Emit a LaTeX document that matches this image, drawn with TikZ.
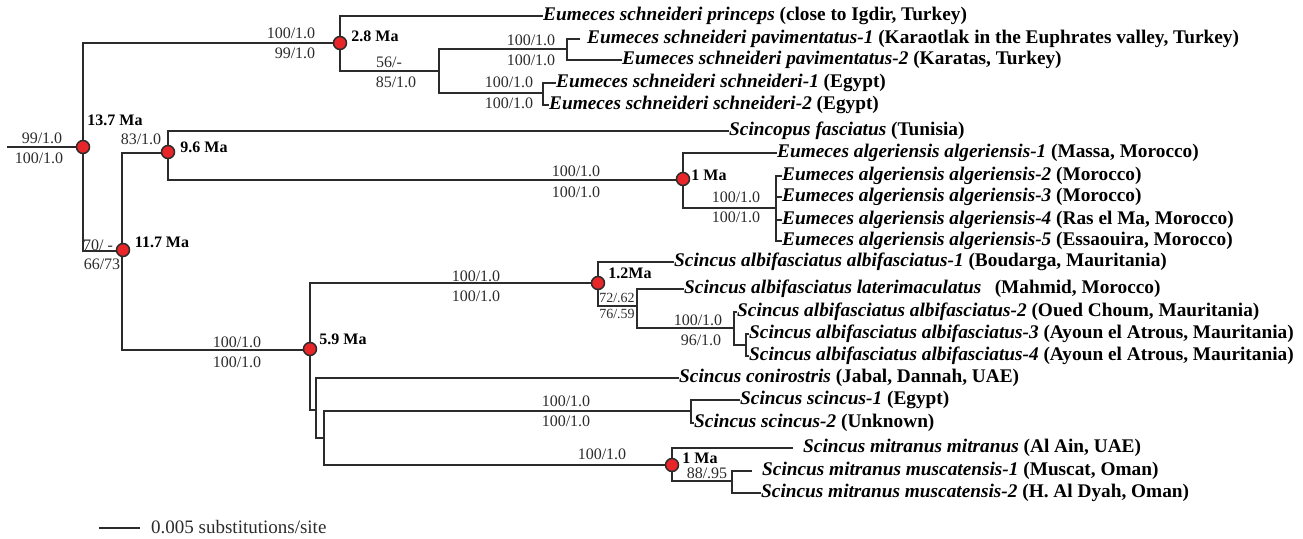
\documentclass[tikz,border=0pt]{standalone}
\usepackage{fontspec}
\setmainfont{Liberation Serif}
\definecolor{nodered}{HTML}{E8262A}
\definecolor{ink}{HTML}{2B2B2B}
\tikzset{
  branch/.style={draw=ink, line width=1.05pt},
  taxon/.style={anchor=west, inner sep=0pt, text height=12pt, text depth=3pt,
                font=\fontsize{19.3}{19.3}\selectfont\bfseries, text=black},
  supp/.style={anchor=base, inner sep=0pt, font=\fontsize{16}{16}\selectfont, text=ink},
  suppsmall/.style={anchor=base, inner sep=0pt, font=\fontsize{14}{14}\selectfont, text=ink},
  age/.style={anchor=base, inner sep=0pt, font=\fontsize{16}{16}\selectfont\bfseries, text=black},
  dot/.style={circle, fill=nodered, draw=ink, line width=1.5pt, minimum size=13pt, inner sep=0pt},
  scaletext/.style={anchor=base west, inner sep=0pt, font=\fontsize{19}{19}\selectfont, text=ink}
}
\newcommand{\taxname}[1]{\textit{#1}}
\begin{document}
\begin{tikzpicture}[x=1pt, y=-1pt]
\useasboundingbox (0,0) rectangle (1303,538);

% internal nodes of the tree
\coordinate (stub) at (7,147);
\coordinate (r) at (83,147);
\coordinate (a28) at (340,43);
\coordinate (aPav0) at (439,71);
\coordinate (aPav) at (567,49);
\coordinate (aSch) at (543,93);
\coordinate (a117) at (122,251);
\coordinate (a96) at (168,153);
\coordinate (a1) at (683,180);
\coordinate (aAlg) at (776,208);
\coordinate (a59) at (310,350);
\coordinate (a12) at (598,283);
\coordinate (aLat) at (637,306);
\coordinate (aAlb) at (734,328);
\coordinate (aAlb34) at (746,345);
\coordinate (aCon) at (316,410);
\coordinate (aSS) at (324,438);
\coordinate (aSc) at (691,411);
\coordinate (aMit) at (672,465);
\coordinate (aMus) at (732,481);

% free branch ends that stop short of their labels
\coordinate (ePav1) at (580,39);
\coordinate (eMit) at (793,448);
\coordinate (eMus1) at (752,471);

% terminal taxa
\node[taxon] (princeps) at (543,16) {\taxname{Eumeces schneideri princeps} (close to Igdir, Turkey)};
\node[taxon] (pav1) at (587,39) {\taxname{Eumeces schneideri pavimentatus-1} (Karaotlak in the Euphrates valley, Turkey)};
\node[taxon] (pav2) at (622,60) {\taxname{Eumeces schneideri pavimentatus-2} (Karatas, Turkey)};
\node[taxon] (sch1) at (556,83) {\taxname{Eumeces schneideri schneideri-1} (Egypt)};
\node[taxon] (sch2) at (549,105) {\taxname{Eumeces schneideri schneideri-2} (Egypt)};
\node[taxon] (scincopus) at (729,131) {\taxname{Scincopus fasciatus} (Tunisia)};
\node[taxon] (alg1) at (777,153) {\taxname{Eumeces algeriensis algeriensis-1} (Massa, Morocco)};
\node[taxon] (alg2) at (782,176) {\taxname{Eumeces algeriensis algeriensis-2} (Morocco)};
\node[taxon] (alg3) at (782,197) {\taxname{Eumeces algeriensis algeriensis-3} (Morocco)};
\node[taxon] (alg4) at (782,220) {\taxname{Eumeces algeriensis algeriensis-4} (Ras el Ma, Morocco)};
\node[taxon] (alg5) at (782,241) {\taxname{Eumeces algeriensis algeriensis-5} (Essaouira, Morocco)};
\node[taxon] (alb1) at (674,262) {\taxname{Scincus albifasciatus albifasciatus-1} (Boudarga, Mauritania)};
\node[taxon] (lat) at (684,289) {\taxname{Scincus albifasciatus laterimaculatus}\hspace{0.7em}(Mahmid, Morocco)};
\node[taxon] (alb2) at (737,312) {\taxname{Scincus albifasciatus albifasciatus-2} (Oued Choum, Mauritania)};
\node[taxon] (alb3) at (749,334) {\taxname{Scincus albifasciatus albifasciatus-3} (Ayoun el Atrous, Mauritania)};
\node[taxon] (alb4) at (749,356) {\taxname{Scincus albifasciatus albifasciatus-4} (Ayoun el Atrous, Mauritania)};
\node[taxon] (con) at (679,378) {\taxname{Scincus conirostris} (Jabal, Dannah, UAE)};
\node[taxon] (sc1) at (740,400) {\taxname{Scincus scincus-1} (Egypt)};
\node[taxon] (sc2) at (694,423) {\taxname{Scincus scincus-2} (Unknown)};
\node[taxon] (mitr) at (803,448) {\taxname{Scincus mitranus mitranus} (Al Ain, UAE)};
\node[taxon] (musc1) at (762,471) {\taxname{Scincus mitranus muscatensis-1} (Muscat, Oman)};
\node[taxon] (musc2) at (761,493) {\taxname{Scincus mitranus muscatensis-2} (H. Al Dyah, Oman)};

% branches
\draw[branch] (stub) -- (r);
\draw[branch] (r) |- (a28);
\draw[branch] (r) |- (a117);
\draw[branch] (a28) |- (princeps.west);
\draw[branch] (a28) |- (aPav0);
\draw[branch] (aPav0) |- (aPav);
\draw[branch] (aPav0) |- (aSch);
\draw[branch] (aPav) |- (ePav1);
\draw[branch] (aPav) |- (pav2.west);
\draw[branch] (aSch) |- (sch1.west);
\draw[branch] (aSch) |- (sch2.west);
\draw[branch] (a117) |- (a96);
\draw[branch] (a117) |- (a59);
\draw[branch] (a96) |- (scincopus.west);
\draw[branch] (a96) |- (a1);
\draw[branch] (a1) |- (alg1.west);
\draw[branch] (a1) |- (aAlg);
\draw[branch] (aAlg) |- (alg2.west);
\draw[branch] (aAlg) |- (alg3.west);
\draw[branch] (aAlg) |- (alg4.west);
\draw[branch] (aAlg) |- (alg5.west);
\draw[branch] (a59) |- (a12);
\draw[branch] (a59) |- (aCon);
\draw[branch] (a12) |- (alb1.west);
\draw[branch] (a12) |- (aLat);
\draw[branch] (aLat) |- (lat.west);
\draw[branch] (aLat) |- (aAlb);
\draw[branch] (aAlb) |- (alb2.west);
\draw[branch] (aAlb) |- (aAlb34);
\draw[branch] (aAlb34) |- (alb3.west);
\draw[branch] (aAlb34) |- (alb4.west);
\draw[branch] (aCon) |- (con.west);
\draw[branch] (aCon) |- (aSS);
\draw[branch] (aSS) |- (aSc);
\draw[branch] (aSS) |- (aMit);
\draw[branch] (aSc) |- (sc1.west);
\draw[branch] (aSc) |- (sc2.west);
\draw[branch] (aMit) |- (eMit);
\draw[branch] (aMit) |- (aMus);
\draw[branch] (aMus) |- (eMus1);
\draw[branch] (aMus) |- (musc2.west);

% dated nodes
\node[dot] (dr) at (r) {};
\node[dot] (d28) at (a28) {};
\node[dot] (d96) at (168,152) {};
\node[dot] (d117) at (123,250) {};
\node[dot] (d59) at (310,349) {};
\node[dot] (d1a) at (683,179) {};
\node[dot] (d12) at (598,283) {};
\node[dot] (d1m) at (672,465) {};

% node ages
\node[age] (t137) at (115,125) {13.7 Ma};
\node[age] (t28) at (375,41) {2.8 Ma};
\node[age] (t96) at (204,152) {9.6 Ma};
\node[age] (t117) at (162,247) {11.7 Ma};
\node[age] (t59) at (343,344) {5.9 Ma};
\node[age] (t1a) at (709,180) {1 Ma};
\node[age] (t12) at (630,278) {1.2Ma};
\node[age] (t1m) at (700,463) {1 Ma};

% support values
\node[supp] (s1) at (42,143) {99/1.0};
\node[supp] (s2) at (39,163) {100/1.0};
\node[supp] (s3) at (291,38) {100/1.0};
\node[supp] (s4) at (295,58) {99/1.0};
\node[supp] (s5) at (389,67) {56/-};
\node[supp] (s6) at (396,87) {85/1.0};
\node[supp] (s7) at (531,45) {100/1.0};
\node[supp] (s8) at (531,65) {100/1.0};
\node[supp] (s9) at (509,87) {100/1.0};
\node[supp] (s10) at (509,108) {100/1.0};
\node[supp] (s11) at (141,144) {83/1.0};
\node[supp] (s12) at (98,250) {70/ -};
\node[supp] (s13) at (102,269) {66/73};
\node[supp] (s14) at (576,176) {100/1.0};
\node[supp] (s15) at (576,197) {100/1.0};
\node[supp] (s16) at (736,202) {100/1.0};
\node[supp] (s17) at (736,222) {100/1.0};
\node[supp] (s18) at (237,347) {100/1.0};
\node[supp] (s19) at (237,367) {100/1.0};
\node[supp] (s20) at (476,281) {100/1.0};
\node[supp] (s21) at (476,301) {100/1.0};
\node[suppsmall] (s22) at (617,302) {72/.62};
\node[suppsmall] (s23) at (617,318) {76/.59};
\node[supp] (s24) at (698,325) {100/1.0};
\node[supp] (s25) at (701,345) {96/1.0};
\node[supp] (s26) at (566,406) {100/1.0};
\node[supp] (s27) at (566,426) {100/1.0};
\node[supp] (s28) at (602,459) {100/1.0};
\node[supp] (s29) at (707,478) {88/.95};

% scale bar
\coordinate (sbL) at (99,528);
\coordinate (sbR) at (140,528);
\draw[branch] (sbL) -- (sbR);
\node[scaletext] (sbtext) at (151,533) {0.005 substitutions/site};
\end{tikzpicture}
\end{document}
